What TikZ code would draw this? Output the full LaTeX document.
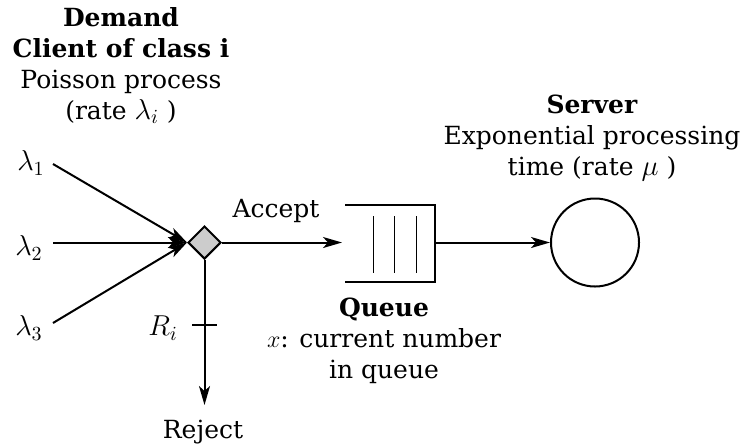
\documentclass[tikz,border=0pt]{standalone}
\usepackage{fontspec}
\setmainfont{DejaVu Serif}
\usetikzlibrary{arrows.meta,shapes.geometric}
\newcommand\lgmath[1]{{\fontsize{14.5}{15.5}\selectfont$#1$}}
\begin{document}
\begin{tikzpicture}[x=0.5pt,y=-0.5pt,
  every node/.style={font=\fontsize{12.5}{15.5}\selectfont, inner sep=0pt},
  conn/.style={line width=1pt,-{Stealth[length=9.5pt,width=5.5pt,inset=2.5pt]}},
  plain/.style={line width=1pt},
  lbl/.style={align=center, anchor=north}]
\useasboundingbox (0,0) rectangle (747,446);
% demand text
\node[lbl] (dem) at (121,7) {\textbf{Demand}\\\textbf{Client of class i}\\Poisson process\\(rate \lgmath{\lambda_i} )};
% lambdas
\node (l1) at (31,163) {\lgmath{\lambda_1}};
\node (l2) at (29,248) {\lgmath{\lambda_2}};
\node (l3) at (29,328) {\lgmath{\lambda_3}};
\coordinate (s1) at (53,164);
\coordinate (s2) at (53,242.5);
\coordinate (s3) at (53,323);
% diamond
\node[diamond, draw, line width=1pt, fill=black!20, minimum width=16.5pt, minimum height=16.5pt, inner sep=0pt] (d) at (204.5,242.5) {};
\draw[conn] (s1) -- (d.west);
\draw[conn] (s2) -- (d.west);
\draw[conn] (s3) -- (d.west);
% queue
\coordinate (qtl) at (345,205);
\coordinate (qtr) at (435,205);
\coordinate (qbr) at (435,282);
\coordinate (qbl) at (345,282);
\coordinate (qin) at (342,242.5);
\coordinate (qout) at (435,242.5);
\draw[plain] (qtl) -- (qtr) -- (qbr) -- (qbl);
\foreach \xx in {373,394,416} \draw[line width=0.5pt] (\xx,216) -- (\xx,273);
\draw[conn] (d.east) -- (qin);
\node (acc) at (276,211) {Accept};
% server
\node[circle, draw, line width=1pt, minimum size=44pt, inner sep=0pt] (srv) at (595,242.5) {};
\draw[conn] (qout) -- (srv.west);
\node[lbl] (srvt) at (592,95) {\textbf{Server}\\Exponential processing\\time (rate \lgmath{\mu} )};
% queue text
\node[lbl] (qt) at (384,298) {\textbf{Queue}\\$x$: current number\\in queue};
% reject
\coordinate (rej) at (204.5,405);
\draw[conn] (d.south) -- (rej);
\coordinate (tkl) at (192,325);
\coordinate (tkr) at (217,325);
\draw[plain] (tkl) -- (tkr);
\node (ri) at (163,328) {\lgmath{R_i}};
\node (rejt) at (203,432) {Reject};
\end{tikzpicture}
\end{document}
